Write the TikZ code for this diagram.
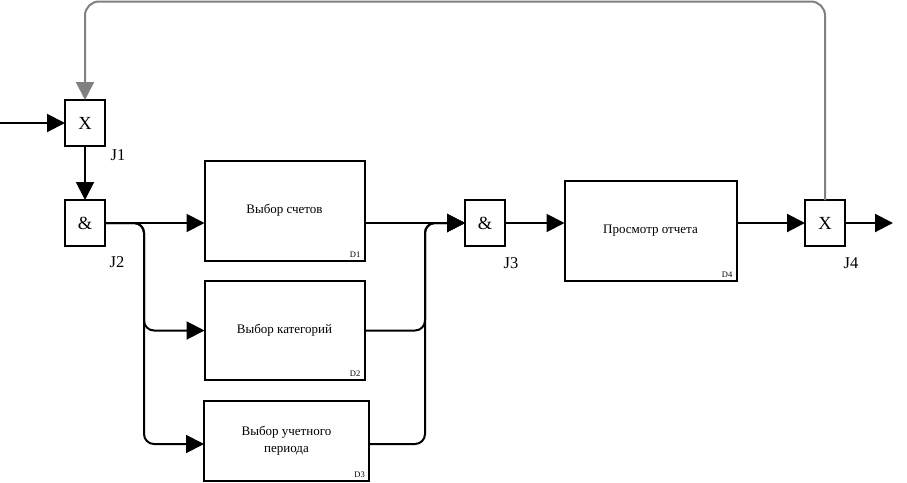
\documentclass[tikz,border=0pt]{standalone}
\usepackage{fontspec}
\setmainfont{Liberation Serif}
\usetikzlibrary{arrows.meta}
\begin{document}
\begin{tikzpicture}[x=1pt,y=-1pt,
  junc/.style={draw,line width=2pt,minimum width=40pt,minimum height=46pt,inner sep=0pt,outer sep=0pt,font=\fontsize{18.5}{18.5}\selectfont},
  proc/.style={draw,line width=2pt,inner sep=0pt,outer sep=0pt,align=center,font=\fontsize{13}{17}\selectfont},
  jlab/.style={font=\fontsize{16.5}{16.5}\selectfont},
  dlab/.style={font=\fontsize{8.5}{8.5}\selectfont,anchor=south east,inner sep=0pt},
  flow/.style={line width=2pt,-{Triangle[length=18pt,width=18pt]}},
  back/.style={flow,draw=gray!110,color=gray}
]
\useasboundingbox (0,0) rectangle (907,482);
% junctions
\node[junc] (J1) at (85,123) {X};
\node[junc] (J2) at (85,223) {\&};
\node[junc] (J3) at (485,223) {\&};
\node[junc] (J4) at (825,223) {X};
\node[jlab] (J1l) at (118,155) {J1};
\node[jlab] (J2l) at (117,262) {J2};
\node[jlab] (J3l) at (511,263) {J3};
\node[jlab] (J4l) at (851,263) {J4};
% processes
\node[proc,minimum width=160pt,minimum height=100pt] (D1) at (284.5,210.5) {Выбор счетов};
\node[proc,minimum width=160pt,minimum height=99pt] (D2) at (284.5,330.5) {Выбор категорий};
\node[proc,minimum width=165pt,minimum height=80pt] (D3) at (286.5,441) {Выбор учетного\\периода};
\node[proc,minimum width=172pt,minimum height=100pt] (D4) at (650.5,230.5) {Просмотр отчета};
\node[dlab] (D1l) at ([shift={(-4,-3)}]D1.south east) {D1};
\node[dlab] (D2l) at ([shift={(-4,-3)}]D2.south east) {D2};
\node[dlab] (D3l) at ([shift={(-4,-3)}]D3.south east) {D3};
\node[dlab] (D4l) at ([shift={(-4,-3)}]D4.south east) {D4};
% helper coordinates
\coordinate (in) at (0,123);
\coordinate (out) at (893,223);
\coordinate (top) at (0,1.5);
\coordinate (bx) at (144,223);
\coordinate (mx) at (425,223);
% connectors
\draw[flow] (in) -- (J1.west);
\draw[flow] (J1.south) -- (J2.north);
\draw[flow] (J2.east) -- (J2.east -| D1.west);
\draw[flow,rounded corners=10pt] (J2.east) -| (bx |- D2.west) -- (D2.west);
\draw[flow,rounded corners=10pt] (J2.east) -| ([yshift=-3pt]bx |- D3.west) -- ([yshift=-3pt]D3.west);
\draw[flow] (D1.east |- J3.west) -- (J3.west);
\draw[flow,rounded corners=10pt] (D2.east) -| (mx) -- (J3.west);
\draw[flow,rounded corners=10pt] ([yshift=-3pt]D3.east) -| (mx) -- (J3.west);
\draw[flow] (J3.east) -- (J3.east -| D4.west);
\draw[flow] (D4.east |- J4.west) -- (J4.west);
\draw[flow] (J4.east) -- (out);
\draw[back,rounded corners=14pt] (J4.north) -- (J4.north |- top) -| (J1.north);
\end{tikzpicture}
\end{document}
